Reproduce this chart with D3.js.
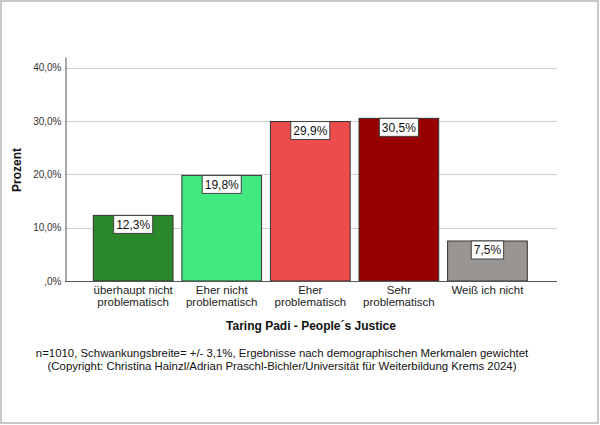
<!DOCTYPE html>
<html>
<head>
<meta charset="utf-8">
<script src="https://cdn.jsdelivr.net/npm/d3@7"></script>
<style>
  body { margin: 0; background: #fff; }
  svg { display: block; font-family: "Liberation Sans", Arial, sans-serif; }
</style>
</head>
<body>
<svg id="chart" width="600" height="425"></svg>
<script>
// data
var categories = [
	["überhaupt nicht", "problematisch"],
	["Eher nicht", "problematisch"],
	["Eher", "problematisch"],
	["Sehr", "problematisch"],
	["Weiß ich nicht"]
];
var values = [12.3, 19.8, 29.9, 30.5, 7.5];
var barColors = ["#2a882a", "#42e880", "#ee4b4c", "#990000", "#989593"];
var yTicks = [0, 10, 20, 30, 40];
var xTitle = "Taring Padi - People´s Justice";
var yTitle = "Prozent";
var notes = [
	"n=1010, Schwankungsbreite= +/- 3,1%, Ergebnisse nach demographischen Merkmalen gewichtet",
	"(Copyright: Christina Hainzl/Adrian Praschl-Bichler/Universität für Weiterbildung Krems 2024)"
];

var svg = d3.select("#chart");

function fmt(v)
{
	var s = v.toFixed(1).replace(".", ",");
	if (s.indexOf("0,") == 0) s = s.slice(1);
	return s + "%";
}

// outer frame
svg.append("rect")
	.attr("x", 1).attr("y", 1)
	.attr("width", 597).attr("height", 422)
	.style("fill", "white")
	.style("stroke", "#c8c8c8")
	.style("stroke-width", 2);

var plotLeft = 65, plotRight = 557, plotTop = 57, plotBottom = 281;

var x = d3.scaleBand()
	.domain(d3.range(values.length))
	.range([93.3, 527.3])
	.paddingInner(0.1)
	.paddingOuter(0);

var y = d3.scaleLinear()
	.domain([0, 42])
	.range([plotBottom, plotTop]);

// gridlines
svg.append("g")
	.selectAll("line")
	.data(yTicks.filter(function(d){ return d > 0; }))
	.enter()
	.append("line")
	.attr("x1", plotLeft).attr("x2", plotRight)
	.attr("y1", function(d){ return Math.round(y(d)) + 0.5; })
	.attr("y2", function(d){ return Math.round(y(d)) + 0.5; })
	.style("stroke", "#cfcfcf")
	.style("stroke-width", 1);

// y axis
var yAxis = svg.append("g")
	.attr("transform", "translate(" + (plotLeft + 0.5) + ",0)")
	.call(d3.axisLeft(y).tickValues(yTicks).tickSize(0).tickPadding(4).tickFormat(fmt));
yAxis.select(".domain").style("stroke", "#555");
yAxis.selectAll("text")
	.style("font-size", "10px")
	.style("font-family", "Liberation Sans, Arial, sans-serif")
	.style("fill", "#333");

// bars
var bars = svg.append("g")
	.selectAll(".bar")
	.data(values)
	.enter()
	.append("g")
	.attr("class", "bar");

bars.append("rect")
	.attr("x", function(d, i){ return x(i); })
	.attr("y", function(d){ return y(d); })
	.attr("width", x.bandwidth())
	.attr("height", function(d){ return plotBottom - y(d); })
	.style("fill", function(d, i){ return barColors[i]; })
	.style("stroke", "#333")
	.style("stroke-width", 1);

// x axis baseline
svg.append("line")
	.attr("x1", plotLeft).attr("x2", plotRight)
	.attr("y1", plotBottom + 0.5).attr("y2", plotBottom + 0.5)
	.style("stroke", "#555");

// value labels in boxes
bars.each(function(d, i)
{
	var g = d3.select(this);
	var cx = x(i) + x.bandwidth() / 2;
	var t = g.append("text")
		.attr("x", cx)
		.attr("y", y(d) + 9)
		.attr("dy", ".35em")
		.style("text-anchor", "middle")
		.style("font-size", "12px")
		.style("fill", "#111")
		.text(fmt(d));
	var w = t.node().getComputedTextLength() + 5;
	g.insert("rect", "text")
		.attr("x", cx - w / 2)
		.attr("y", y(d))
		.attr("width", w)
		.attr("height", 18)
		.style("fill", "white")
		.style("stroke", "#444")
		.style("stroke-width", 1);
});

// category labels
svg.append("g")
	.selectAll("text")
	.data(categories)
	.enter()
	.append("text")
	.attr("x", function(d, i){ return x(i) + x.bandwidth() / 2; })
	.attr("y", 294)
	.style("text-anchor", "middle")
	.style("font-size", "11.5px")
	.style("fill", "#222")
	.each(function(d)
	{
		var el = d3.select(this);
		d.forEach(function(line, k)
		{
			el.append("tspan")
				.attr("x", el.attr("x"))
				.attr("dy", k == 0 ? 0 : 12)
				.text(line);
		});
	});

// axis titles
svg.append("text")
	.attr("x", (plotLeft + plotRight) / 2)
	.attr("y", 330)
	.style("text-anchor", "middle")
	.style("font-size", "12px")
	.style("font-weight", "bold")
	.style("fill", "#111")
	.text(xTitle);

svg.append("text")
	.attr("transform", "translate(21,170) rotate(-90)")
	.style("text-anchor", "middle")
	.style("font-size", "12px")
	.style("font-weight", "bold")
	.style("fill", "#111")
	.text(yTitle);

// footnote
svg.append("g")
	.selectAll("text")
	.data(notes)
	.enter()
	.append("text")
	.attr("x", 282)
	.attr("y", function(d, i){ return 357 + i * 13; })
	.style("text-anchor", "middle")
	.style("font-size", "11.4px")
	.style("fill", "#111")
	.text(function(d){ return d; });
</script>
</body>
</html>
